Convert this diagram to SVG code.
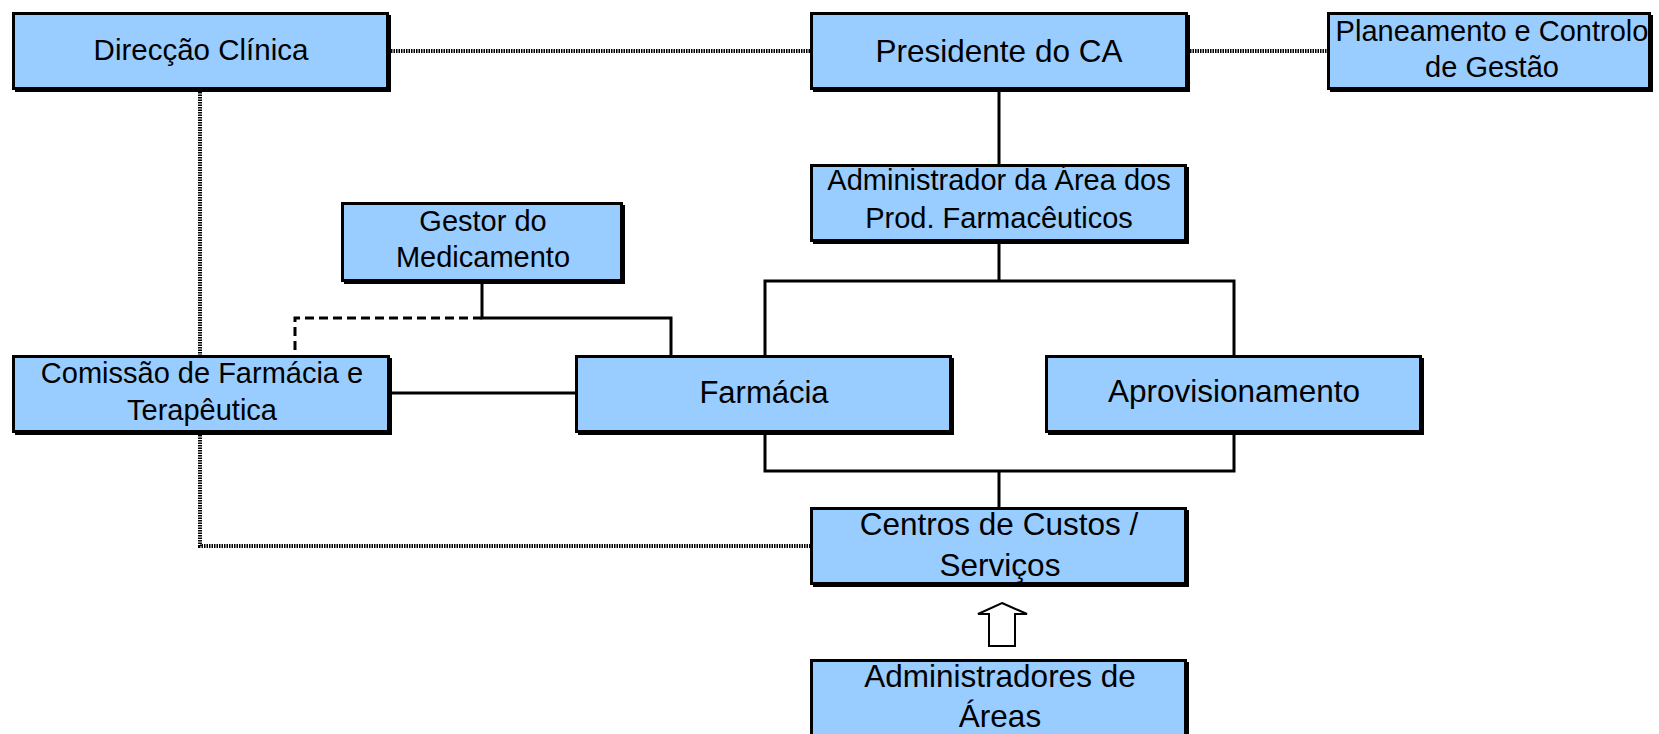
<svg xmlns="http://www.w3.org/2000/svg" width="1659" height="734" viewBox="0 0 1659 734">
<style>
.box{fill:#99CCFF;stroke:#000;stroke-width:3}
.sh{fill:#000}
.t{font-family:"Liberation Sans",Arial,sans-serif;fill:#000;text-anchor:middle}
.solid{fill:none;stroke:#000;stroke-width:3}
.dot{fill:none;stroke:#000;stroke-width:4;stroke-dasharray:1.5 1}
.dash{fill:none;stroke:#000;stroke-width:3;stroke-dasharray:9 5}
</style>
<rect width="1659" height="734" fill="#fff"/>
<g id="connectors">
<path class="dot" d="M391 51H810"/>
<path class="dot" d="M1190 51H1327"/>
<path class="dot" d="M200 92V355"/>
<path class="dot" d="M200 435V546H810"/>
<path class="solid" d="M999 92V164"/>
<path class="solid" d="M999 244V281"/>
<path class="solid" d="M765 355V281H1234V355"/>
<path class="solid" d="M765 435V471H1234V435"/>
<path class="solid" d="M999 471V507"/>
<path class="solid" d="M482 284V318H671V355"/>
<path class="dash" d="M482 318H295V355"/>
<path class="solid" d="M392 393H575"/>
<polygon points="1002,603 1027,614 1015,614 1015,646 989,646 989,614 978,614" fill="#fff" stroke="#000" stroke-width="2" stroke-linejoin="miter"/>
</g>
<g id="direccao">
<rect class="sh" x="15" y="15" width="376" height="77"/>
<rect class="box" x="13.5" y="13.5" width="374" height="75"/>
<text class="t" x="201" y="60" font-size="29.5">Direcção Clínica</text>
</g>
<g id="presidente">
<rect class="sh" x="813" y="15" width="377" height="77"/>
<rect class="box" x="811.5" y="13.5" width="375" height="75"/>
<text class="t" x="999" y="62" font-size="31.5">Presidente do CA</text>
</g>
<g id="planeamento">
<rect class="sh" x="1330" y="15" width="323" height="77"/>
<rect class="box" x="1328.5" y="13.5" width="321" height="75"/>
<text class="t" x="1492" y="41" font-size="29">Planeamento e Controlo</text>
<text class="t" x="1492" y="77" font-size="29">de Gestão</text>
</g>
<g id="administrador">
<rect class="sh" x="813" y="167" width="376" height="77"/>
<rect class="box" x="811.5" y="165.5" width="374" height="75"/>
<text class="t" x="999" y="190" font-size="29">Administrador da Área dos</text>
<text class="t" x="999" y="228" font-size="29">Prod. Farmacêuticos</text>
</g>
<g id="gestor">
<rect class="sh" x="344" y="205" width="281" height="79"/>
<rect class="box" x="342.5" y="203.5" width="279" height="77"/>
<text class="t" x="483" y="231" font-size="29">Gestor do</text>
<text class="t" x="483" y="267" font-size="29">Medicamento</text>
</g>
<g id="comissao">
<rect class="sh" x="15" y="358" width="377" height="77"/>
<rect class="box" x="13.5" y="356.5" width="375" height="75"/>
<text class="t" x="202" y="383" font-size="29">Comissão de Farmácia e</text>
<text class="t" x="202" y="420" font-size="29">Terapêutica</text>
</g>
<g id="farmacia">
<rect class="sh" x="578" y="358" width="376" height="77"/>
<rect class="box" x="576.5" y="356.5" width="374" height="75"/>
<text class="t" x="764" y="403" font-size="31">Farmácia</text>
</g>
<g id="aprovisionamento">
<rect class="sh" x="1048" y="358" width="376" height="77"/>
<rect class="box" x="1046.5" y="356.5" width="374" height="75"/>
<text class="t" x="1234" y="402" font-size="31.5">Aprovisionamento</text>
</g>
<g id="centros">
<rect class="sh" x="813" y="510" width="376" height="77"/>
<rect class="box" x="811.5" y="508.5" width="374" height="75"/>
<text class="t" x="999" y="535" font-size="31.5">Centros de Custos /</text>
<text class="t" x="1000" y="576" font-size="31.5">Serviços</text>
</g>
<g id="administradores">
<rect class="sh" x="813" y="662" width="376" height="80"/>
<rect class="box" x="811.5" y="660.5" width="374" height="80"/>
<text class="t" x="1000" y="687" font-size="31.5">Administradores de</text>
<text class="t" x="1000" y="727" font-size="31.5">Áreas</text>
</g>
</svg>
